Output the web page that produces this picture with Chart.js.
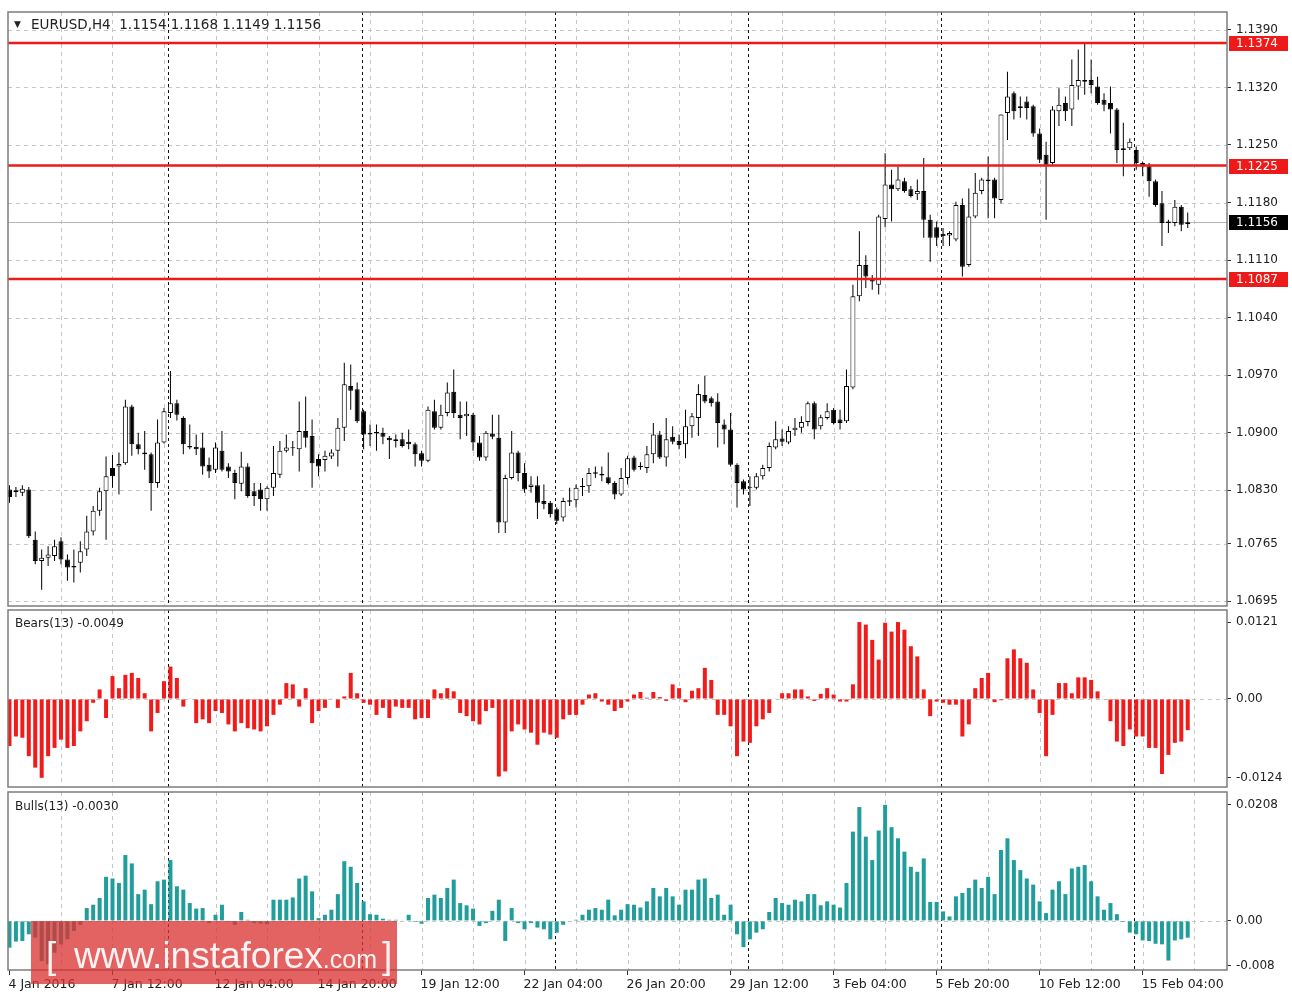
<!DOCTYPE html>
<html>
<head>
<meta charset="utf-8">
<script src="https://cdn.jsdelivr.net/npm/chart.js@4.4.1/dist/chart.umd.min.js"></script>
<style>
  body { margin: 0; background: #fff; width: 1292px; height: 997px; overflow: hidden; position: relative; }
  canvas { position: absolute; left: 0; }
</style>
</head>
<body>
<canvas id="price" width="1292" height="608" style="top:0"></canvas>
<canvas id="bears" width="1292" height="180" style="top:609px"></canvas>
<canvas id="bulls" width="1292" height="207" style="top:790px"></canvas>
<script>
// EURUSD H4, 4 Jan 2016 20:00 .. 16 Feb 2016 08:00
let opens = [1.0831,1.0828,1.0827,1.0831,1.0770,1.0744,1.0748,1.0750,1.0768,1.0746,
  1.0736,1.0742,1.0758,1.0780,1.0805,1.0829,1.0857,1.0859,1.0863,1.0932,
  1.0886,1.0876,1.0874,1.0839,1.0888,1.0924,1.0936,1.0918,1.0884,1.0883,
  1.0882,1.0861,1.0855,1.0878,1.0859,1.0851,1.0838,1.0859,1.0829,1.0831,
  1.0819,1.0833,1.0849,1.0878,1.0881,1.0880,1.0902,1.0896,1.0868,1.0867,
  1.0871,1.0878,1.0906,1.0957,1.0953,1.0926,1.0900,1.0899,1.0900,1.0894,
  1.0892,1.0892,1.0889,1.0886,1.0875,1.0866,1.0926,1.0906,1.0924,1.0950,
  1.0922,1.0920,1.0922,1.0888,1.0870,1.0899,1.0894,1.0791,1.0845,1.0876,
  1.0851,1.0834,1.0836,1.0817,1.0815,1.0807,1.0797,1.0818,1.0818,1.0834,
  1.0835,1.0852,1.0850,1.0846,1.0839,1.0825,1.0845,1.0870,1.0858,1.0857,
  1.0874,1.0898,1.0870,1.0895,1.0890,1.0886,1.0908,1.0918,1.0946,1.0942,
  1.0938,1.0910,1.0904,1.0861,1.0841,1.0834,1.0833,1.0847,1.0857,1.0882,
  1.0893,1.0888,1.0903,1.0906,1.0913,1.0936,1.0908,1.0918,1.0928,1.0916,
  1.0914,1.0955,1.1066,1.1104,1.1088,1.1080,1.1160,1.1202,1.1196,1.1206,
  1.1196,1.1190,1.1194,1.1159,1.1150,1.1142,1.1140,1.1135,1.1177,1.1104,
  1.1163,1.1194,1.1206,1.1208,1.1183,1.1289,1.1313,1.1297,1.1303,1.1297,
  1.1264,1.1238,1.1228,1.1291,1.1301,1.1293,1.1321,1.1329,1.1329,1.1321,
  1.1305,1.1301,1.1293,1.1246,1.1246,1.1244,1.1228,1.1224,1.1206,1.1179,
  1.1157,1.1155,1.1175,1.1154]
let highs = [1.0836,1.0834,1.0836,1.0834,1.0780,1.0758,1.0762,1.0770,1.0773,1.0752,
  1.0758,1.0768,1.0799,1.0811,1.0833,1.0871,1.0873,1.0876,1.0940,1.0934,
  1.0900,1.0902,1.0876,1.0916,1.0930,1.0975,1.0940,1.0920,1.0910,1.0898,
  1.0900,1.0870,1.0888,1.0902,1.0863,1.0855,1.0877,1.0863,1.0839,1.0839,
  1.0835,1.0884,1.0890,1.0898,1.0890,1.0938,1.0944,1.0916,1.0874,1.0878,
  1.0880,1.0918,1.0985,1.0983,1.0961,1.0928,1.0910,1.0910,1.0906,1.0896,
  1.0898,1.0900,1.0904,1.0888,1.0878,1.0932,1.0940,1.0934,1.0961,1.0977,
  1.0938,1.0938,1.0924,1.0896,1.0902,1.0922,1.0922,1.0849,1.0902,1.0878,
  1.0863,1.0847,1.0847,1.0837,1.0817,1.0809,1.0821,1.0833,1.0837,1.0845,
  1.0857,1.0859,1.0859,1.0876,1.0841,1.0857,1.0872,1.0872,1.0864,1.0884,
  1.0912,1.0902,1.0918,1.0908,1.0898,1.0928,1.0924,1.0959,1.0969,1.0944,
  1.0948,1.0916,1.0924,1.0863,1.0843,1.0847,1.0851,1.0861,1.0888,1.0914,
  1.0904,1.0908,1.0918,1.0920,1.0938,1.0938,1.0922,1.0936,1.0930,1.0928,
  1.0977,1.1080,1.1145,1.1116,1.1092,1.1165,1.1240,1.1220,1.1224,1.1210,
  1.1200,1.1208,1.1234,1.1165,1.1157,1.1149,1.1145,1.1181,1.1185,1.1197,
  1.1216,1.1210,1.1236,1.1210,1.1287,1.1339,1.1315,1.1309,1.1309,1.1299,
  1.1270,1.1254,1.1297,1.1319,1.1309,1.1354,1.1366,1.1374,1.1354,1.1333,
  1.1313,1.1321,1.1295,1.1277,1.1258,1.1248,1.1230,1.1228,1.1208,1.1194,
  1.1159,1.1183,1.1177,1.1168]
let lows = [1.0815,1.0822,1.0823,1.0772,1.0740,1.0709,1.0738,1.0744,1.0740,1.0720,
  1.0718,1.0730,1.0750,1.0775,1.0799,1.0770,1.0833,1.0825,1.0861,1.0872,
  1.0874,1.0855,1.0805,1.0833,1.0887,1.0918,1.0915,1.0874,1.0880,1.0873,
  1.0849,1.0845,1.0851,1.0853,1.0845,1.0819,1.0829,1.0821,1.0811,1.0805,
  1.0805,1.0823,1.0845,1.0876,1.0872,1.0853,1.0882,1.0833,1.0847,1.0853,
  1.0868,1.0859,1.0890,1.0928,1.0912,1.0880,1.0884,1.0878,1.0886,1.0868,
  1.0882,1.0882,1.0880,1.0859,1.0859,1.0864,1.0904,1.0904,1.0920,1.0918,
  1.0892,1.0896,1.0878,1.0866,1.0866,1.0892,1.0778,1.0778,1.0843,1.0841,
  1.0827,1.0827,1.0795,1.0807,1.0797,1.0789,1.0792,1.0811,1.0809,1.0823,
  1.0827,1.0845,1.0841,1.0837,1.0819,1.0823,1.0837,1.0853,1.0855,1.0851,
  1.0863,1.0868,1.0859,1.0886,1.0880,1.0869,1.0894,1.0896,1.0936,1.0932,
  1.0882,1.0886,1.0859,1.0809,1.0825,1.0811,1.0831,1.0843,1.0853,1.0880,
  1.0884,1.0886,1.0896,1.0900,1.0908,1.0892,1.0904,1.0916,1.0910,1.0904,
  1.0912,1.0953,1.1060,1.1076,1.1074,1.1068,1.1150,1.1157,1.1194,1.1192,
  1.1186,1.1183,1.1137,1.1108,1.1127,1.1127,1.1127,1.1133,1.1090,1.1102,
  1.1161,1.1190,1.1161,1.1161,1.1179,1.1256,1.1281,1.1283,1.1281,1.1260,
  1.1228,1.1159,1.1226,1.1273,1.1279,1.1273,1.1305,1.1311,1.1313,1.1299,
  1.1291,1.1264,1.1228,1.1212,1.1244,1.1220,1.1212,1.1187,1.1175,1.1127,
  1.1143,1.1151,1.1145,1.1149]
let closes = [1.0822,1.0830,1.0832,1.0774,1.0744,1.0748,1.0752,1.0762,1.0746,1.0736,
  1.0738,1.0756,1.0780,1.0805,1.0829,1.0847,1.0847,1.0862,1.0932,1.0886,
  1.0880,1.0874,1.0839,1.0888,1.0926,1.0936,1.0922,1.0886,1.0882,1.0880,
  1.0859,1.0853,1.0882,1.0855,1.0853,1.0839,1.0859,1.0823,1.0823,1.0819,
  1.0833,1.0851,1.0878,1.0882,1.0882,1.0902,1.0894,1.0863,1.0859,1.0872,
  1.0876,1.0906,1.0959,1.0951,1.0914,1.0898,1.0898,1.0901,1.0895,1.0891,
  1.0890,1.0884,1.0886,1.0874,1.0866,1.0928,1.0906,1.0922,1.0949,1.0924,
  1.0918,1.0923,1.0888,1.0870,1.0900,1.0895,1.0791,1.0845,1.0876,1.0851,
  1.0831,1.0837,1.0815,1.0813,1.0801,1.0793,1.0817,1.0816,1.0833,1.0835,
  1.0851,1.0850,1.0848,1.0839,1.0825,1.0845,1.0869,1.0855,1.0860,1.0874,
  1.0898,1.0870,1.0892,1.0889,1.0885,1.0908,1.0920,1.0947,1.0938,1.0936,
  1.0912,1.0904,1.0861,1.0839,1.0831,1.0833,1.0847,1.0857,1.0884,1.0892,
  1.0889,1.0902,1.0906,1.0913,1.0936,1.0904,1.0919,1.0926,1.0912,1.0912,
  1.0957,1.1066,1.1104,1.1090,1.1084,1.1163,1.1202,1.1196,1.1208,1.1194,
  1.1188,1.1194,1.1159,1.1137,1.1137,1.1139,1.1143,1.1177,1.1102,1.1163,
  1.1192,1.1208,1.1208,1.1185,1.1287,1.1309,1.1291,1.1295,1.1295,1.1264,
  1.1232,1.1226,1.1293,1.1299,1.1291,1.1323,1.1329,1.1327,1.1323,1.1301,
  1.1299,1.1293,1.1244,1.1244,1.1254,1.1228,1.1224,1.1206,1.1177,1.1155,
  1.1155,1.1175,1.1153,1.1156]
let bears = [-0.0074,-0.0059,-0.0061,-0.0090,-0.0108,-0.0124,-0.0090,-0.0077,-0.0064,-0.0077,
  -0.0074,-0.0051,-0.0035,-0.0006,0.0015,-0.0030,0.0036,0.0017,0.0038,0.0041,
  0.0033,0.0009,-0.0051,-0.0022,0.0028,0.0051,0.0033,-0.0012,0.0001,-0.0038,
  -0.0032,-0.0038,-0.0019,-0.0022,-0.0040,-0.0051,-0.0038,-0.0046,-0.0048,-0.0051,
  -0.0043,-0.0025,-0.0009,0.0025,0.0023,-0.0012,0.0017,-0.0038,-0.0019,-0.0014,
  0.0001,-0.0014,0.0004,0.0041,0.0009,-0.0006,-0.0009,-0.0025,-0.0014,-0.0030,
  -0.0012,-0.0014,-0.0014,-0.0032,-0.0030,-0.0030,0.0015,0.0009,0.0017,0.0012,
  -0.0022,-0.0027,-0.0035,-0.0040,-0.0019,-0.0014,-0.0122,-0.0114,-0.0051,-0.0040,
  -0.0048,-0.0053,-0.0072,-0.0053,-0.0056,-0.0061,-0.0032,-0.0025,-0.0025,-0.0009,
  0.0007,0.0009,-0.0004,-0.0009,-0.0019,-0.0014,-0.0004,0.0007,0.0011,0.0002,
  0.0011,0.0003,-0.0003,0.0023,0.0017,-0.0005,0.0013,0.0017,0.0049,0.0030,
  -0.0025,-0.0025,-0.0043,-0.0090,-0.0067,-0.0069,-0.0043,-0.0032,-0.0022,0.0001,
  0.0009,0.0009,0.0015,0.0015,0.0004,-0.0003,0.0008,0.0017,0.0007,-0.0004,
  -0.0004,0.0023,0.0121,0.0117,0.0093,0.0062,0.0120,0.0106,0.0121,0.0109,
  0.0083,0.0067,0.0015,-0.0027,-0.0004,-0.0006,-0.0009,-0.0009,-0.0059,-0.0040,
  0.0017,0.0033,0.0041,-0.0005,-0.0002,0.0064,0.0078,0.0064,0.0057,0.0015,
  -0.0022,-0.0090,-0.0025,0.0025,0.0025,0.0009,0.0034,0.0034,0.0030,0.0012,
  -0.0001,-0.0035,-0.0067,-0.0074,-0.0048,-0.0059,-0.0059,-0.0077,-0.0077,-0.0118,
  -0.0088,-0.0069,-0.0067,-0.0049]
let bulls = [-0.0048,-0.0037,-0.0036,-0.0024,-0.0030,-0.0072,-0.0078,-0.0057,-0.0042,-0.0033,
  -0.0018,-0.0007,0.0023,0.0029,0.0041,0.0079,0.0076,0.0068,0.0118,0.0103,
  0.0048,0.0056,0.0030,0.0071,0.0074,0.0109,0.0062,0.0056,0.0032,0.0022,
  0.0023,-0.0004,0.0011,0.0029,-0.0002,-0.0007,0.0016,0.0002,-0.0004,-0.0005,
  -0.0006,0.0038,0.0038,0.0038,0.0042,0.0076,0.0081,0.0053,0.0005,0.0011,
  0.0020,0.0048,0.0107,0.0097,0.0068,0.0035,0.0012,0.0011,0.0004,0.0002,
  0.0002,0.0001,0.0011,-0.0002,-0.0005,0.0041,0.0047,0.0041,0.0059,0.0074,
  0.0032,0.0028,0.0022,-0.0009,-0.0004,0.0018,0.0038,-0.0036,0.0023,-0.0004,
  -0.0015,-0.0004,-0.0012,-0.0015,-0.0033,-0.0021,-0.0007,0.0000,0.0002,0.0011,
  0.0020,0.0023,0.0020,0.0038,0.0010,0.0020,0.0030,0.0029,0.0024,0.0035,
  0.0059,0.0044,0.0059,0.0044,0.0029,0.0056,0.0056,0.0074,0.0076,0.0041,
  0.0047,0.0011,0.0029,-0.0024,-0.0047,-0.0033,-0.0021,-0.0015,0.0016,0.0041,
  0.0032,0.0029,0.0038,0.0035,0.0048,0.0048,0.0028,0.0035,0.0029,0.0024,
  0.0068,0.0160,0.0204,0.0151,0.0109,0.0162,0.0208,0.0168,0.0148,0.0124,
  0.0097,0.0088,0.0112,0.0034,0.0034,0.0017,0.0008,0.0044,0.0050,0.0059,
  0.0074,0.0059,0.0079,0.0048,0.0127,0.0148,0.0109,0.0091,0.0076,0.0065,
  0.0035,0.0014,0.0056,0.0071,0.0048,0.0094,0.0097,0.0100,0.0071,0.0044,
  0.0020,0.0032,0.0012,-0.0002,-0.0021,-0.0024,-0.0035,-0.0036,-0.0041,-0.0042,
  -0.0071,-0.0035,-0.0033,-0.0030]

let xLabels = ['4 Jan 2016', '7 Jan 12:00', '12 Jan 04:00', '14 Jan 20:00', '19 Jan 12:00', '22 Jan 04:00',
  '26 Jan 20:00', '29 Jan 12:00', '3 Feb 04:00', '5 Feb 20:00', '10 Feb 12:00', '15 Feb 04:00']
let labelEvery = 16            // bars between time labels
let weekStarts = [25, 55, 85, 115, 145, 175]   // Monday 00:00 bars
let priceTicks = [1.0695, 1.0765, 1.0830, 1.0900, 1.0970, 1.1040, 1.1110, 1.1180, 1.1250, 1.1320, 1.1390]
let levels = [1.1374, 1.1225, 1.1087]
let lastPrice = 1.1156
let bearsTicks = [0.0121, 0, -0.0124]
let bullsTicks = [0.0208, 0, -0.008]

const FONT = '"DejaVu Sans", sans-serif'
const idx = opens.map((_, i) => i)

function line(ctx, x1, y1, x2, y2) {
    ctx.beginPath()
    ctx.moveTo(x1, y1)
    ctx.lineTo(x2, y2)
    ctx.stroke()
}

function zeroPad(s) {
    s.paddingTop = 0
    s.paddingBottom = 0
    s.paddingLeft = 0
    s.paddingRight = 0
}

function xScale(show) {
    return {
        type: 'linear', min: -0.23, max: 189.1, offset: false,
        display: show,
        afterBuildTicks: (s) => { s.ticks = xLabels.map((_, k) => ({ value: k * labelEvery })) },
        afterFit: (s) => { s.height = show ? 27 : 0; zeroPad(s) },
        ticks: {
            autoSkip: false, maxRotation: 0, minRotation: 0, align: 'start', labelOffset: -1, padding: 2,
            color: '#222', font: { family: FONT, size: 12.5 },
            callback: (v, k) => xLabels[k],
        },
        grid: { drawOnChartArea: false, offset: false, tickLength: 5, color: '#333' },
        border: { display: false },
    }
}

function yScale(min, max, ticksArr, fmt) {
    return {
        position: 'right', min: min, max: max,
        afterBuildTicks: (s) => { s.ticks = ticksArr.map((v) => ({ value: v })) },
        afterFit: (s) => { s.width = 65; zeroPad(s) },
        ticks: { color: '#222', font: { family: FONT, size: 12 }, padding: 5, callback: fmt },
        grid: { drawOnChartArea: false, tickLength: 4, color: '#333' },
        border: { display: false },
    }
}

// grid, separators, frame and texts of one MT4 window
function panelPlugin(kind) {
    return {
        id: 'panel_' + kind,
        beforeDatasetsDraw(chart) {
            const { ctx, chartArea: a, scales: { x, y } } = chart
            ctx.save()
            ctx.lineWidth = 1
            ctx.setLineDash([4, 4])
            ctx.strokeStyle = '#c6c6c6'
            for (let i = 8; i < x.max; i += 8) {
                const px = Math.round(x.getPixelForValue(i)) + 0.5
                line(ctx, px, a.top, px, a.bottom)
            }
            if (kind === 'price') {
                priceTicks.forEach((v) => {
                    const py = Math.round(y.getPixelForValue(v)) + 0.5
                    line(ctx, a.left, py, a.right, py)
                })
                ctx.setLineDash([])
                ctx.strokeStyle = '#b4b4b4'
                const py = Math.round(y.getPixelForValue(lastPrice)) + 0.5
                line(ctx, a.left, py, a.right, py)
            } else {
                const py = Math.round(y.getPixelForValue(0)) + 0.5
                line(ctx, a.left, py, a.right, py)
            }
            ctx.setLineDash([3, 3])
            ctx.strokeStyle = '#111'
            weekStarts.forEach((i) => {
                const px = Math.round(x.getPixelForValue(i)) - 1.5
                line(ctx, px, a.top, px, a.bottom)
            })
            ctx.restore()
        },
        afterDatasetsDraw(chart) {
            if (kind !== 'price') return
            const { ctx, chartArea: a, scales: { y } } = chart
            ctx.save()
            ctx.strokeStyle = '#ee1a1a'
            ctx.lineWidth = 2.5
            levels.forEach((v) => {
                const py = y.getPixelForValue(v)
                line(ctx, a.left, py, a.right, py)
            })
            ctx.restore()
        },
        afterDraw(chart) {
            const { ctx, chartArea: a, scales: { y } } = chart
            ctx.save()
            ctx.strokeStyle = '#7c7c7c'
            ctx.lineWidth = 1.5
            ctx.strokeRect(a.left, a.top, a.right - a.left, a.bottom - a.top)
            ctx.font = '12px ' + FONT
            ctx.textBaseline = 'middle'
            if (kind === 'price') {
                const tag = (v, bg) => {
                    const py = Math.round(y.getPixelForValue(v))
                    ctx.fillStyle = bg
                    ctx.fillRect(a.right + 2, py - 7, 59, 15)
                    ctx.fillStyle = '#fff'
                    ctx.fillText(v.toFixed(4), a.right + 9, py + 0.5)
                }
                levels.forEach((v) => tag(v, '#ee1a1a'))
                tag(lastPrice, '#000')
                ctx.fillStyle = '#222'
                ctx.font = '9px ' + FONT
                ctx.fillText('\u25BC', 14, 25)
                ctx.font = '13.5px ' + FONT
                ctx.fillText('EURUSD,H4  ' + [opens, highs, lows, closes].map((s) => s[s.length - 1].toFixed(4)).join(' '), 31, 25)
            } else if (kind === 'bears') {
                ctx.fillStyle = '#222'
                ctx.fillText('Bears(13) ' + bears[bears.length - 1].toFixed(4), 15, a.top + 14)
            } else {
                ctx.fillStyle = '#222'
                ctx.fillText('Bulls(13) ' + bulls[bulls.length - 1].toFixed(4), 15, a.top + 15)
                // watermark
                ctx.fillStyle = 'rgba(218, 50, 50, 0.76)'
                ctx.fillRect(31, a.top + 129, 366, 63)
                ctx.fillStyle = 'rgba(255, 255, 255, 0.92)'
                ctx.textBaseline = 'alphabetic'
                ctx.font = '37px "Liberation Sans", sans-serif'
                ctx.fillText('[', 46, a.top + 176)
                ctx.fillText('www.instaforex', 74, a.top + 176)
                const w = ctx.measureText('www.instaforex').width
                ctx.font = '25px "Liberation Sans", sans-serif'
                ctx.fillText('.com', 74 + w, a.top + 176)
                const w2 = ctx.measureText('.com').width
                ctx.font = '37px "Liberation Sans", sans-serif'
                ctx.fillText(']', 79 + w + w2, a.top + 176)
            }
            ctx.restore()
        },
    }
}

const common = {
    responsive: false,
    animation: false,
    events: [],
    plugins: { legend: { display: false }, tooltip: { enabled: false } },
}

new Chart(document.getElementById('price').getContext('2d'), {
    type: 'bar',
    data: {
        datasets: [
            {
                // bodies (drawn on top)
                data: idx.map((i) => ({ x: i, y: [opens[i], closes[i]] })),
                backgroundColor: idx.map((i) => (closes[i] >= opens[i] ? '#fff' : '#000')),
                borderColor: '#000',
                borderWidth: 1,
                borderSkipped: false,
                barThickness: 5,
                minBarLength: 1,
                inflateAmount: 0,
                grouped: false,
            },
            {
                // wicks
                data: idx.map((i) => ({ x: i, y: [lows[i], highs[i]] })),
                backgroundColor: '#000',
                borderWidth: 0,
                barThickness: 1,
                inflateAmount: 0,
                grouped: false,
            },
        ],
    },
    options: {
        ...common,
        layout: { padding: { left: 8, top: 12, right: 0, bottom: 2 } },
        scales: {
            x: xScale(false),
            y: yScale(1.06893, 1.14117, priceTicks, (v) => v.toFixed(4)),
        },
    },
    plugins: [panelPlugin('price')],
})

const subFmt = (v) => (v === 0 ? '0.00' : String(v))

new Chart(document.getElementById('bears').getContext('2d'), {
    type: 'bar',
    data: {
        datasets: [{
            data: idx.map((i) => ({ x: i, y: bears[i] })),
            backgroundColor: '#f01c1c',
            barThickness: 4,
            inflateAmount: 0,
            grouped: false,
        }],
    },
    options: {
        ...common,
        layout: { padding: { left: 8, top: 1, right: 0, bottom: 2 } },
        scales: {
            x: xScale(false),
            y: yScale(-0.01385, 0.0140, bearsTicks, subFmt),
        },
    },
    plugins: [panelPlugin('bears')],
})

new Chart(document.getElementById('bulls').getContext('2d'), {
    type: 'bar',
    data: {
        datasets: [{
            data: idx.map((i) => ({ x: i, y: bulls[i] })),
            backgroundColor: '#219e9b',
            barThickness: 4,
            inflateAmount: 0,
            grouped: false,
        }],
    },
    options: {
        ...common,
        layout: { padding: { left: 8, top: 2, right: 0, bottom: 0 } },
        scales: {
            x: xScale(true),
            y: yScale(-0.0088, 0.0231, bullsTicks, subFmt),
        },
    },
    plugins: [panelPlugin('bulls')],
})
</script>
</body>
</html>
